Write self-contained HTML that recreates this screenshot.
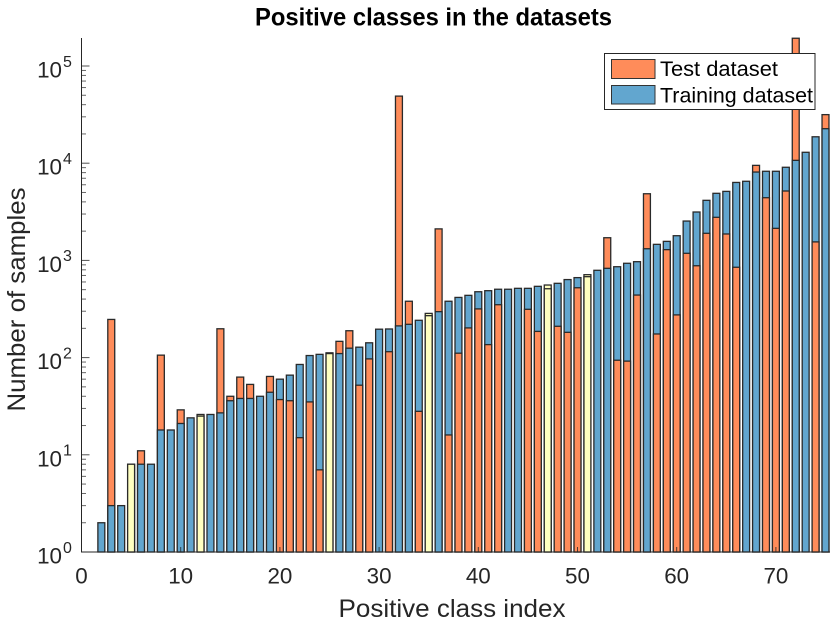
<!DOCTYPE html>
<html lang="en">
<head>
<meta charset="utf-8">
<title>Positive classes in the datasets</title>
<style>
html,body{margin:0;padding:0;background:#fff;width:830px;height:623px;overflow:hidden}
svg{display:block;font-family:"Liberation Sans",Arial,sans-serif}
</style>
</head>
<body>
<svg id="chart" width="830" height="623" viewBox="0 0 830 623" xmlns="http://www.w3.org/2000/svg">
  <rect x="0" y="0" width="830" height="623" fill="#fff"/>
  <g id="bars"></g>
  <g id="axes"></g>
  <text x="433.5" y="25.5" text-anchor="middle" font-size="24.6" font-weight="bold" fill="#000" textLength="357" lengthAdjust="spacingAndGlyphs">Positive classes in the datasets</text>
  <text x="452" y="617" text-anchor="middle" font-size="25" fill="#262626" textLength="227" lengthAdjust="spacingAndGlyphs">Positive class index</text>
  <text transform="translate(25 299.5) rotate(-90)" text-anchor="middle" font-size="25" fill="#262626" textLength="224" lengthAdjust="spacingAndGlyphs">Number of samples</text>
  <g>
    <rect x="604.5" y="53.5" width="210.5" height="56" fill="#fff" stroke="#262626" stroke-width="1"/>
    <rect x="611.5" y="59.5" width="43.5" height="19" fill="#ff8c5a" stroke="#333" stroke-width="1"/>
    <text x="660" y="76" font-size="21.4" fill="#000" textLength="118" lengthAdjust="spacingAndGlyphs">Test dataset</text>
    <rect x="611.5" y="85.5" width="43.5" height="18.5" fill="#62a6cf" stroke="#333" stroke-width="1"/>
    <text x="660" y="102.5" font-size="21.4" fill="#000" textLength="153" lengthAdjust="spacingAndGlyphs">Training dataset</text>
  </g>
</svg>
<script>
var classIndices = [2,3,4,5,6,7,8,9,10,11,12,13,14,15,16,17,18,19,20,21,22,23,24,25,26,27,28,29,30,31,32,33,34,35,36,37,38,39,40,41,42,43,44,45,46,47,48,49,50,51,52,53,54,55,56,57,58,59,60,61,62,63,64,65,66,67,68,69,70,71,72,73,74,75];
var trainingSamples = [2,3,3,8,8,8,18,18,21,24,26,26,27,36,38,38,40,44,60,66,85,105,108,112,110,125,128,142,196,197,212,220,242,285,297,380,416,437,476,488,505,505,516,516,541,558,581,635,665,713,791,829,861,934,970,1318,1463,1570,1795,2540,3147,4150,4900,5130,6340,6516,8110,8260,8260,9080,10700,12950,18700,22650];
var testSamples = [null,247,null,8,11,null,106,null,29,null,25,null,198,40,63,53,null,64,37,36,15,35,7,110,147,189,52,97,null,115,49000,380,28,270,2110,16,111,202,317,136,350,null,null,314,186,511,210,182,523,680,null,1711,94,92,440,4850,175,1290,275,1183,881,1900,2775,1870,850,null,9500,4415,2137,5175,193000,null,1550,31600];
var equalSplitClasses = [5,12,25,35,47,51];
var xTickLabels = [0,10,20,30,40,50,60,70];
var yTickExponents = [0,1,2,3,4,5];
var yMinorMultipliers = [2,3,4,5,6,7,8,9];

var NS = 'http://www.w3.org/2000/svg';
var PLOT = {left: 81.5, right: 830, top: 38, bottom: 552};
var X_UNIT = 9.92, Y_DECADE = 97.2, BAR_WIDTH = 0.8 * X_UNIT;
function xScale(v) { return PLOT.left + v * X_UNIT; }
function yScale(v) { return PLOT.bottom - Math.log10(v) * Y_DECADE; }
function make(tag, attrs, parent) {
  var el = document.createElementNS(NS, tag);
  for (var k in attrs) { el.setAttribute(k, attrs[k]); }
  parent.appendChild(el);
  return el;
}
var barsG = document.getElementById('bars');
var axesG = document.getElementById('axes');

function drawBar(cat, value, fill, name) {
  var top = Math.max(yScale(value), PLOT.top);
  var bar = make('rect', {
    x: xScale(cat) - BAR_WIDTH / 2 + 0.5,
    y: top,
    width: BAR_WIDTH - 1,
    height: PLOT.bottom - top,
    fill: fill,
    stroke: '#2a2a2a',
    'stroke-width': 1.3
  }, barsG);
  
  
}

classIndices.forEach(function (cat, i) {
  var tr = trainingSamples[i], te = testSamples[i];
  var equal = equalSplitClasses.indexOf(cat) >= 0;
  var trFill = equal ? '#ffffc0' : '#62a6cf';
  var teFill = equal ? '#ffffc0' : '#ff8c5a';
  if (te !== null && te > tr) {
    drawBar(cat, te, teFill, 'bar-test-class-' + cat);
    drawBar(cat, tr, trFill, 'bar-training-class-' + cat);
  } else {
    drawBar(cat, tr, trFill, 'bar-training-class-' + cat);
    if (te !== null) { drawBar(cat, te, teFill, 'bar-test-class-' + cat); }
  }
});

var AXIS = '#262626';
var yLine = make('line', {x1: PLOT.left, x2: PLOT.left, y1: PLOT.top, y2: PLOT.bottom + 0.5, stroke: AXIS, 'stroke-width': 1}, axesG);


var xLine = make('line', {x1: PLOT.left, x2: PLOT.right, y1: PLOT.bottom, y2: PLOT.bottom, stroke: AXIS, 'stroke-width': 1}, axesG);



xTickLabels.forEach(function (v) {
  var tick = make('line', {x1: xScale(v), x2: xScale(v), y1: PLOT.bottom, y2: PLOT.bottom - 5, stroke: AXIS, 'stroke-width': 1, opacity: 0.8}, axesG);
  
  
  var label = make('text', {x: xScale(v), y: 583.5, 'text-anchor': 'middle', 'font-size': 22.4, fill: AXIS}, axesG);
  label.textContent = String(v);
  
  
});

yTickExponents.forEach(function (e) {
  var py = yScale(Math.pow(10, e));
  var tick = make('line', {x1: PLOT.left, x2: PLOT.left + 8, y1: py, y2: py, stroke: AXIS, 'stroke-width': 1, opacity: 0.8}, axesG);
  
  
  var base = make('text', {x: 62, y: py + 11.5, 'text-anchor': 'end', 'font-size': 22.4, fill: AXIS}, axesG);
  base.textContent = '10';
  
  
  var exp = make('text', {x: 63, y: py + 0.8, 'font-size': 16, fill: AXIS}, axesG);
  exp.textContent = String(e);
  
  
  yMinorMultipliers.forEach(function (m) {
    var v = m * Math.pow(10, e);
    var my = yScale(v);
    if (my < PLOT.top) { return; }
    var minor = make('line', {x1: PLOT.left, x2: PLOT.left + 4.5, y1: my, y2: my, stroke: AXIS, 'stroke-width': 1, opacity: 0.7}, axesG);
    
    
  });
});
</script>
</body>
</html>
